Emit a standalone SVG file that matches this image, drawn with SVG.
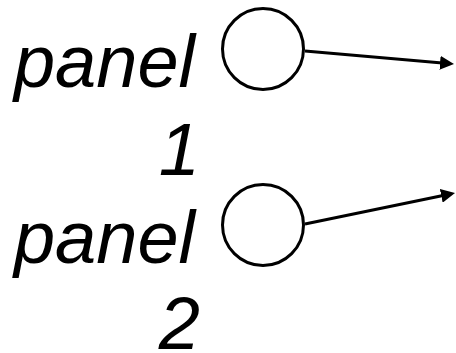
<svg xmlns="http://www.w3.org/2000/svg" width="456" height="353" viewBox="0 0 456 353">
  <style>
    .lbl { font-family: "Liberation Sans", Arial, sans-serif; font-style: italic; font-size: 74px; fill: #000; text-anchor: end; }
    .node { fill: #fff; stroke: #000; stroke-width: 3; }
    .conn { fill: none; stroke: #000; stroke-width: 3; marker-end: url(#arrow); }
  </style>
  <defs>
    <marker id="arrow" markerUnits="userSpaceOnUse" markerWidth="14" markerHeight="14" refX="8" refY="7" orient="auto">
      <path d="M0,0 L14,7 L0,14 z" fill="#000"/>
    </marker>
  </defs>
  <rect width="456" height="353" fill="#fff"/>
  <g id="panel1">
    <text class="lbl" x="195" y="87">panel</text>
    <text class="lbl" x="200" y="175">1</text>
    <circle class="node" cx="263" cy="49" r="40.5"/>
  </g>
  <g id="panel2">
    <text class="lbl" x="195" y="263">panel</text>
    <text class="lbl" x="200" y="349">2</text>
    <circle class="node" cx="263" cy="225" r="40.5"/>
  </g>
  <g id="connectors">
    <line class="conn" x1="305" y1="51" x2="448" y2="63.5"/>
    <line class="conn" x1="305" y1="224" x2="449.1" y2="194.2"/>
  </g>
</svg>
